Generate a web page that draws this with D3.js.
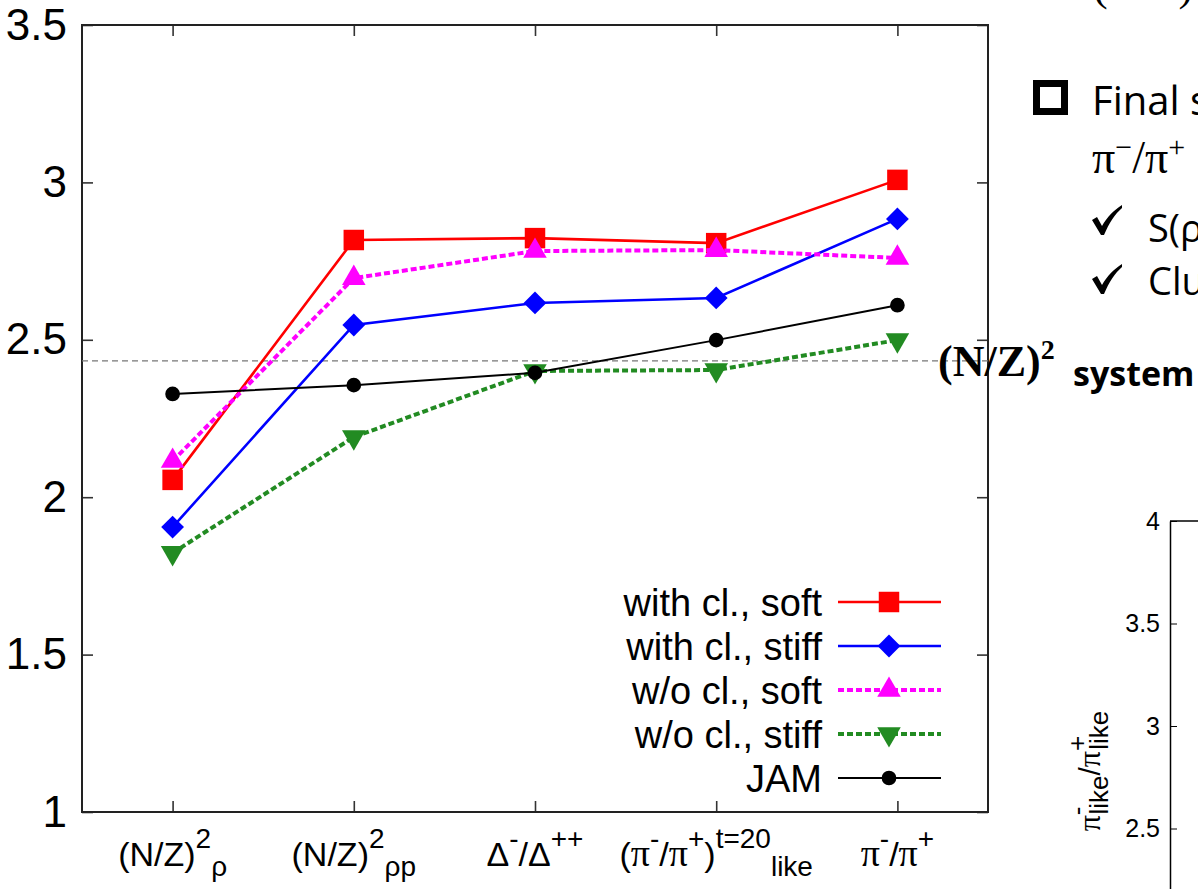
<!DOCTYPE html>
<html>
<head>
<meta charset="utf-8">
<script src="https://cdn.jsdelivr.net/npm/d3@7"></script>
<style>
  body { margin: 0; background: #fff; }
  svg { display: block; }
</style>
</head>
<body>
<div id="chart"></div>
<script>
// categories along x, one value per category in every series
const categories = ['nzRho', 'nzRhoP', 'deltaRatio', 'piLike', 'piRatio'];
const yTicks = [1, 1.5, 2, 2.5, 3, 3.5];

const withClSoft = [2.055, 2.817, 2.823, 2.807, 3.008];
const withClStiff = [1.905, 2.547, 2.617, 2.633, 2.884];
const woClSoft = [2.115, 2.696, 2.782, 2.785, 2.76];
const woClStiff = [1.823, 2.191, 2.401, 2.404, 2.499];
const jam = [2.328, 2.356, 2.395, 2.499, 2.61];
const nzSystem = 2.433;

const seriesNames = ['with cl., soft', 'with cl., stiff', 'w/o cl., soft', 'w/o cl., stiff', 'JAM'];

// tick labels as [text, 'b' | 'sup' | 'sub']
const tickLabels = [
	[['(N/Z)', 'b'], ['2', 'sup'], ['ρ', 'sub']],
	[['(N/Z)', 'b'], ['2', 'sup'], ['ρp', 'sub']],
	[['Δ', 'b'], ['-', 'sup'], ['/Δ', 'b'], ['++', 'sup']],
	[['(π', 'b'], ['-', 'sup'], ['/π', 'b'], ['+', 'sup'], [')', 'b'], ['t=20', 'sup'], ['like', 'sub']],
	[['π', 'b'], ['-', 'sup'], ['/π', 'b'], ['+', 'sup']],
];

// the second (cut off) plot in the lower right corner
const insetTicks = [2.5, 3, 3.5, 4];

const W = 1198, H = 889;
const PLOT = { LEFT: 82, RIGHT: 988, TOP: 25, BOTTOM: 812 };
const SANS = '"Liberation Sans", Arial, sans-serif';
const SERIF = '"Liberation Serif", "Times New Roman", serif';
const SLIDE = '"Open Sans", "Noto Sans", sans-serif';

const svg = d3.select('#chart').append('svg')
	.attr('width', W)
	.attr('height', H)
	.attr('viewBox', `0 0 ${W} ${H}`);

svg.append('rect').attr('width', W).attr('height', H).attr('fill', '#fff');

const x = d3.scalePoint()
	.domain(categories)
	.range([PLOT.LEFT, PLOT.RIGHT])
	.padding(0.5);

const y = d3.scaleLinear()
	.domain([1, 3.5])
	.range([PLOT.BOTTOM, PLOT.TOP]);

// axes (ticks point inward, like gnuplot)
function styleAxis(g) {
	g.select('.domain').remove();
	g.selectAll('.tick line').attr('stroke', '#333').attr('stroke-width', 1.6);
	g.selectAll('.tick text').attr('fill', '#000');
}

svg.append('g')
	.attr('transform', `translate(${PLOT.LEFT},0)`)
	.call(d3.axisLeft(y).tickValues(yTicks).tickSize(-11).tickPadding(15).tickFormat(d3.format('')))
	.call(styleAxis)
	.selectAll('.tick text')
		.attr('font-family', SANS)
		.attr('font-size', 44);

svg.append('g')
	.attr('transform', `translate(${PLOT.RIGHT},0)`)
	.call(d3.axisRight(y).tickValues(yTicks).tickSize(-11).tickFormat(''))
	.call(styleAxis);

svg.append('g')
	.attr('transform', `translate(0,${PLOT.TOP})`)
	.call(d3.axisTop(x).tickSize(-11).tickFormat(''))
	.call(styleAxis);

svg.append('g')
	.attr('transform', `translate(0,${PLOT.BOTTOM})`)
	.call(d3.axisBottom(x).tickSize(-11).tickFormat(''))
	.call(styleAxis);

// rich x tick labels with super/subscripts
const OFFSET = { b: 0, sup: -18, sub: 10 };
categories.forEach((c, i) => {
	const t = svg.append('text')
		.attr('x', x(c))
		.attr('y', 866)
		.attr('text-anchor', 'middle')
		.attr('font-family', SANS)
		.attr('fill', '#000');
	let cur = 0;
	tickLabels[i].forEach(([txt, kind]) => {
		// greek pi in a serif face, everything else sans
		const runs = txt.split(/(π)/).filter(s => s.length);
		runs.forEach(run => {
			t.append('tspan')
				.attr('dy', OFFSET[kind] - cur)
				.attr('font-size', kind === 'b' ? (run === 'π' ? 38 : 34) : 28)
				.attr('font-family', run === 'π' ? SERIF : SANS)
				.text(run);
			cur = OFFSET[kind];
		});
	});
});

// frame
svg.append('rect')
	.attr('x', PLOT.LEFT)
	.attr('y', PLOT.TOP)
	.attr('width', PLOT.RIGHT - PLOT.LEFT)
	.attr('height', PLOT.BOTTOM - PLOT.TOP)
	.attr('fill', 'none')
	.attr('stroke', '#222')
	.attr('stroke-width', 2);

// (N/Z)^2 of the system
svg.append('line')
	.attr('x1', PLOT.LEFT).attr('x2', PLOT.RIGHT)
	.attr('y1', y(nzSystem)).attr('y2', y(nzSystem))
	.attr('stroke', '#777')
	.attr('stroke-width', 1.3)
	.attr('stroke-dasharray', '6,4');

const series = [
	{ name: seriesNames[0], values: withClSoft, color: '#ff0000', width: 2.6, dash: null, symbol: d3.symbolSquare, size: 420, rotate: 0 },
	{ name: seriesNames[1], values: withClStiff, color: '#0000ff', width: 2.6, dash: null, symbol: d3.symbolSquare, size: 260, rotate: 45 },
	{ name: seriesNames[2], values: woClSoft, color: '#ff00ff', width: 4, dash: '6,3', symbol: d3.symbolTriangle, size: 240, rotate: 0 },
	{ name: seriesNames[3], values: woClStiff, color: '#228b22', width: 4, dash: '6,3', symbol: d3.symbolTriangle, size: 240, rotate: 180 },
	{ name: seriesNames[4], values: jam, color: '#000000', width: 2, dash: null, symbol: d3.symbolCircle, size: 170, rotate: 0 },
];

const line = d3.line()
	.x((d, i) => x(categories[i]))
	.y(d => y(d));

series.forEach(s => {
	const g = svg.append('g');
	g.append('path')
		.attr('d', line(s.values))
		.attr('fill', 'none')
		.attr('stroke', s.color)
		.attr('stroke-width', s.width)
		.attr('stroke-dasharray', s.dash);
	g.selectAll('path.pt')
		.data(s.values)
		.enter().append('path')
			.attr('class', 'pt')
			.attr('d', d3.symbol().type(s.symbol).size(s.size))
			.attr('transform', (d, i) => `translate(${x(categories[i])},${y(d)}) rotate(${s.rotate})`)
			.attr('fill', s.color);
});

// legend, bottom right inside the frame
const legend = svg.append('g').attr('transform', 'translate(0,602)');
series.forEach((s, i) => {
	const row = legend.append('g').attr('transform', `translate(0,${i * 44})`);
	row.append('text')
		.attr('x', 822)
		.attr('y', 0)
		.attr('dy', '0.36em')
		.attr('text-anchor', 'end')
		.attr('font-family', SANS)
		.attr('font-size', 38)
		.attr('textLength', null)
		.attr('fill', '#000')
		.text(s.name);
	row.append('line')
		.attr('x1', 838).attr('x2', 941)
		.attr('stroke', s.color)
		.attr('stroke-width', s.width)
		.attr('stroke-dasharray', s.dash);
	row.append('path')
		.attr('d', d3.symbol().type(s.symbol).size(s.size))
		.attr('transform', `translate(889,0) rotate(${s.rotate})`)
		.attr('fill', s.color);
});

// ---- slide text on the right ----
svg.append('text')
	.attr('x', 1093).attr('y', 0)
	.attr('font-family', SERIF).attr('font-size', 44)
	.text('(N/Z)');

svg.append('rect')
	.attr('x', 1036.5).attr('y', 83.5)
	.attr('width', 28).attr('height', 28)
	.attr('fill', 'none')
	.attr('stroke', '#000')
	.attr('stroke-width', 7);

svg.append('text')
	.attr('x', 1092).attr('y', 115)
	.attr('font-family', SLIDE).attr('font-size', 40)
	.text('Final state');

const piLine = svg.append('text')
	.attr('x', 1092).attr('y', 173)
	.attr('font-family', SERIF).attr('font-size', 46);
piLine.append('tspan').text('π');
piLine.append('tspan').attr('dy', -16).attr('font-size', 30).text('−');
piLine.append('tspan').attr('dy', 16).text('/π');
piLine.append('tspan').attr('dy', -16).attr('font-size', 30).text('+');

// check-mark bullets
const checkPath = 'M0,15 L5,12 L10,21 C15,12 22,5 30,0 L30,3 C23,9 17,18 12,30 L9,30 Z';
[['S(ρ)', 242, 205], ['Cluster', 295, 264]].forEach(([txt, yy, top]) => {
	svg.append('path')
		.attr('d', checkPath)
		.attr('transform', `translate(1092,${top})`)
		.attr('fill', '#000');
	svg.append('text')
		.attr('x', 1148).attr('y', yy)
		.attr('font-family', SLIDE).attr('font-size', 38)
		.text(txt);
});

const nzText = svg.append('text')
	.attr('x', 938).attr('y', 376)
	.attr('font-family', SERIF).attr('font-size', 44)
	.attr('font-weight', 'bold');
nzText.append('tspan').text('(N/Z)');
nzText.append('tspan').attr('dy', -17).attr('font-size', 28).text('2');

svg.append('text')
	.attr('x', 1073).attr('y', 386)
	.attr('font-family', SLIDE).attr('font-size', 34)
	.attr('font-weight', 'bold')
	.text('system');

// ---- second plot, cut off at the page edge ----
const yB = d3.scaleLinear()
	.domain([2, 4])
	.range([931, 521]);

svg.append('g')
	.attr('transform', 'translate(1170,0)')
	.call(d3.axisLeft(yB).tickValues(insetTicks).tickSize(-7).tickSizeOuter(0).tickPadding(10).tickFormat(d3.format('')))
	.call(g => {
		g.select('.domain').attr('stroke', '#000').attr('stroke-width', 1.5);
		g.selectAll('.tick line').attr('stroke', '#000');
		g.selectAll('.tick text').attr('font-family', SANS).attr('font-size', 25).attr('fill', '#000');
	});

svg.append('line')
	.attr('x1', 1170).attr('x2', W)
	.attr('y1', yB(4)).attr('y2', yB(4))
	.attr('stroke', '#000').attr('stroke-width', 1.5);

const yLabel = svg.append('text')
	.attr('transform', `translate(1100,${yB(2.78)}) rotate(-90)`)
	.attr('text-anchor', 'middle')
	.attr('font-family', SANS)
	.attr('font-size', 30);
yLabel.append('tspan').attr('font-family', SERIF).attr('font-size', 32).text('π');
yLabel.append('tspan').attr('dy', -14).attr('font-size', 26).text('-');
yLabel.append('tspan').attr('dy', 22).attr('dx', -8).attr('font-size', 26).text('like');
yLabel.append('tspan').attr('dy', -8).text('/');
yLabel.append('tspan').attr('font-family', SERIF).attr('font-size', 32).text('π');
yLabel.append('tspan').attr('dy', -14).attr('font-size', 26).text('+');
yLabel.append('tspan').attr('dy', 22).attr('dx', -14).attr('font-size', 26).text('like');
</script>
</body>
</html>
